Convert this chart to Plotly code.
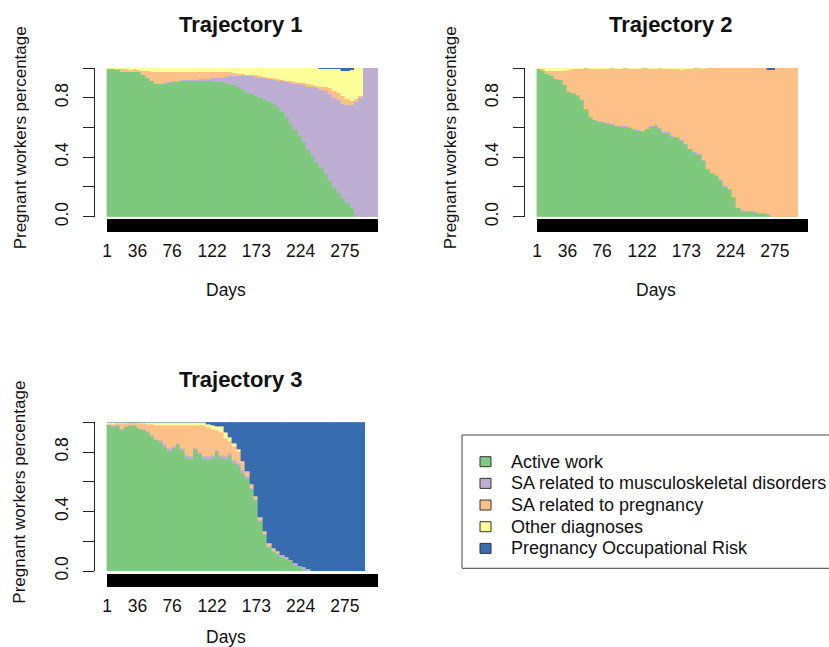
import plotly.graph_objects as go

W, H = 829, 647

STATES = ["Active work", "SA related to musculoskeletal disorders",
          "SA related to pregnancy", "Other diagnoses",
          "Pregnancy Occupational Risk"]
COLORS = ["#7FC97F", "#BEAED4", "#FDC086", "#FFFF99", "#386CB0"]

DAY_LABELS = [1, 36, 76, 122, 173, 224, 275]
MAX_DAY = 313
BIN = 5  # days per column group
LENGTHS = [313, 301, 298]
TITLES = ["Trajectory 1", "Trajectory 2", "Trajectory 3"]

# ---- Trajectory 1 (share of each state, 5-day groups) ----
act1 = [0.99, 0.99, 0.985, 0.975, 0.975, 0.97, 0.975, 0.97, 0.955, 0.935,
        0.91, 0.89, 0.89, 0.895, 0.9, 0.905, 0.905, 0.91, 0.91, 0.91,
        0.91, 0.915, 0.915, 0.91, 0.91, 0.905, 0.905, 0.9, 0.895, 0.885,
        0.87, 0.86, 0.835, 0.825, 0.815, 0.80, 0.785, 0.77, 0.755,
        0.735, 0.705, 0.67, 0.625, 0.58, 0.54, 0.50, 0.45, 0.41, 0.37,
        0.33, 0.29, 0.24, 0.195, 0.16, 0.125, 0.095, 0.06, 0.01, 0,
        0, 0, 0, 0]
msk1 = [0, 0, 0, 0, 0, 0, 0, 0, 0, 0,
        0, 0, 0.003, 0.005, 0.005, 0.005, 0.007, 0.007, 0.008, 0.008,
        0.01, 0.01, 0.012, 0.015, 0.02, 0.025, 0.03, 0.04, 0.05, 0.06,
        0.078, 0.09, 0.111, 0.119, 0.125, 0.135, 0.145, 0.155, 0.165,
        0.18, 0.205, 0.235, 0.275, 0.315, 0.35, 0.385, 0.425, 0.46, 0.495,
        0.525, 0.555, 0.585, 0.605, 0.625, 0.635, 0.655, 0.69, 0.76, 0.8,
        1, 1, 1, 1]
preg1 = [0, 0.005, 0.008, 0.015, 0.015, 0.015, 0.015, 0.015, 0.025, 0.045,
         0.065, 0.085, 0.08, 0.075, 0.07, 0.065, 0.06, 0.058, 0.055, 0.055,
         0.05, 0.048, 0.045, 0.045, 0.04, 0.04, 0.035, 0.03, 0.025, 0.02,
         0.015, 0.012, 0.01, 0.01, 0.01, 0.01, 0.01, 0.01, 0.01,
         0.01, 0.01, 0.01, 0.01, 0.01, 0.01, 0.015, 0.015, 0.015, 0.015,
         0.02, 0.03, 0.04, 0.045, 0.05, 0.05, 0.04, 0.03, 0.02, 0.01,
         0, 0, 0, 0]
oth1 = [0.01, 0.005, 0.007, 0.01, 0.01, 0.015, 0.01, 0.015, 0.02, 0.02,
        0.025, 0.025, 0.027, 0.025, 0.025, 0.025, 0.028, 0.025, 0.027, 0.027,
        0.03, 0.027, 0.028, 0.03, 0.03, 0.03, 0.03, 0.03, 0.03, 0.035,
        0.037, 0.038, 0.044, 0.046, 0.05, 0.055, 0.06, 0.065, 0.07,
        0.075, 0.08, 0.085, 0.09, 0.095, 0.1, 0.1, 0.11, 0.115, 0.12,
        0.115, 0.115, 0.125, 0.145, 0.155, 0.172, 0.192, 0.205, 0.21, 0.19,
        0, 0, 0, 0]
por1 = [0, 0, 0, 0, 0, 0, 0, 0, 0, 0,
        0, 0, 0, 0, 0, 0, 0, 0, 0, 0,
        0, 0, 0, 0, 0, 0, 0, 0, 0, 0,
        0, 0, 0, 0, 0, 0, 0, 0, 0,
        0, 0, 0, 0, 0, 0, 0, 0, 0, 0,
        0.01, 0.01, 0.01, 0.01, 0.01, 0.018, 0.018, 0.015, 0, 0,
        0, 0, 0, 0]

# ---- Trajectory 2 ----
act2 = [0.99, 0.98, 0.962, 0.946, 0.928, 0.917, 0.884, 0.839, 0.828, 0.81,
        0.783, 0.716, 0.664, 0.647, 0.638, 0.633, 0.626, 0.62, 0.608, 0.604,
        0.602, 0.595, 0.586, 0.577, 0.57, 0.588, 0.604, 0.61, 0.593, 0.566,
        0.559, 0.526, 0.532, 0.508, 0.481, 0.452, 0.43, 0.414, 0.374,
        0.313, 0.291, 0.275, 0.239, 0.201, 0.179, 0.128, 0.056, 0.034, 0.029,
        0.029, 0.022, 0.016, 0.016, 0.004, 0, 0, 0, 0, 0,
        0, 0]
msk2 = [0, 0, 0, 0, 0, 0, 0, 0, 0.005, 0.008,
        0.005, 0.005, 0.008, 0.005, 0.005, 0.005, 0.005, 0.005, 0.005, 0.005,
        0.005, 0.005, 0.005, 0.005, 0.005, 0.003, 0.003, 0.005, 0.005, 0.005,
        0.01, 0.02, 0.005, 0.005, 0.005, 0.005, 0.005, 0.005, 0.005,
        0.005, 0.005, 0.005, 0.005, 0.005, 0.005, 0.005, 0.005, 0.01, 0.01,
        0.01, 0.01, 0.01, 0.01, 0.012, 0, 0, 0, 0, 0,
        0, 0]
preg2 = [0.005, 0.01, 0.018, 0.034, 0.052, 0.063, 0.096, 0.146, 0.157, 0.177,
         0.207, 0.279, 0.318, 0.34, 0.352, 0.354, 0.364, 0.375, 0.382, 0.386,
         0.393, 0.39, 0.401, 0.413, 0.425, 0.409, 0.388, 0.38, 0.402, 0.424,
         0.421, 0.444, 0.453, 0.475, 0.504, 0.538, 0.565, 0.581, 0.613,
         0.682, 0.704, 0.72, 0.756, 0.794, 0.816, 0.867, 0.939, 0.956, 0.961,
         0.961, 0.968, 0.974, 0.974, 0.969, 0.985, 1, 1, 1, 1,
         1, 1]
oth2 = [0.005, 0.01, 0.02, 0.02, 0.02, 0.02, 0.02, 0.015, 0.01, 0.005,
        0.005, 0, 0.01, 0.008, 0.005, 0.008, 0.005, 0, 0.005, 0.005,
        0, 0.01, 0.008, 0.005, 0, 0, 0.005, 0.005, 0, 0.005,
        0.01, 0.01, 0.01, 0.012, 0.01, 0.005, 0, 0, 0.008,
        0, 0, 0, 0, 0, 0, 0, 0, 0, 0,
        0, 0, 0, 0, 0, 0, 0, 0, 0, 0,
        0, 0]
por2 = [0, 0, 0, 0, 0, 0, 0, 0, 0, 0,
        0, 0, 0, 0, 0, 0, 0, 0, 0, 0,
        0, 0, 0, 0, 0, 0, 0, 0, 0, 0,
        0, 0, 0, 0, 0, 0, 0, 0, 0,
        0, 0, 0, 0, 0, 0, 0, 0, 0, 0,
        0, 0, 0, 0, 0.015, 0.015, 0, 0, 0, 0,
        0, 0]

# ---- Trajectory 3 ----
act3 = [0.984, 0.969, 0.978, 0.946, 0.973, 0.978, 0.978, 0.962, 0.946, 0.935,
        0.906, 0.879, 0.866, 0.834, 0.805, 0.828, 0.85, 0.81, 0.76, 0.749,
        0.817, 0.783, 0.754, 0.749, 0.76, 0.805, 0.76, 0.754, 0.776,
        0.727, 0.705, 0.66, 0.625, 0.55, 0.475, 0.335, 0.245, 0.16, 0.13,
        0.115, 0.095, 0.08, 0.065, 0.04, 0.025, 0.007, 0, 0, 0,
        0, 0, 0, 0, 0, 0, 0, 0, 0, 0,
        0]
msk3 = [0, 0.01, 0, 0.01, 0, 0, 0, 0, 0.005, 0.005,
        0.008, 0.01, 0.012, 0.015, 0.02, 0.01, 0.01, 0.015, 0.02, 0.02,
        0.01, 0.015, 0.015, 0.02, 0.02, 0.01, 0.02, 0.02, 0.015,
        0.02, 0.02, 0.015, 0.01, 0.005, 0.005, 0.005, 0.005, 0.005, 0.005,
        0.005, 0.005, 0.008, 0.01, 0.01, 0.01, 0.015, 0.01, 0, 0,
        0, 0, 0, 0, 0, 0, 0, 0, 0, 0,
        0]
preg3 = [0, 0.01, 0.015, 0.035, 0.022, 0.02, 0.02, 0.03, 0.04, 0.045,
         0.07, 0.09, 0.1, 0.13, 0.155, 0.14, 0.12, 0.155, 0.2, 0.21,
         0.155, 0.185, 0.21, 0.195, 0.175, 0.13, 0.155, 0.12, 0.08,
         0.09, 0.08, 0.055, 0.035, 0.025, 0.02, 0.02, 0.02, 0.02, 0.015,
         0.01, 0.005, 0.002, 0, 0, 0, 0, 0, 0, 0,
         0, 0, 0, 0, 0, 0, 0, 0, 0, 0,
         0]
oth3 = [0.016, 0.011, 0.007, 0.009, 0.005, 0.002, 0.002, 0.008, 0.009, 0.015,
        0.016, 0.021, 0.022, 0.021, 0.02, 0.022, 0.02, 0.02, 0.02, 0.021,
        0.018, 0.017, 0.021, 0.02, 0.025, 0.03, 0.035, 0.036, 0.029,
        0.023, 0.015, 0.01, 0, 0, 0, 0, 0, 0, 0,
        0, 0, 0, 0, 0, 0, 0, 0, 0, 0,
        0, 0, 0, 0, 0, 0, 0, 0, 0, 0,
        0]
por3 = [0, 0, 0, 0, 0, 0, 0, 0, 0, 0,
        0, 0, 0, 0, 0, 0, 0, 0, 0, 0,
        0, 0, 0, 0.016, 0.02, 0.025, 0.03, 0.07, 0.1,
        0.14, 0.18, 0.26, 0.33, 0.42, 0.5, 0.64, 0.73, 0.815, 0.85,
        0.87, 0.895, 0.91, 0.925, 0.95, 0.965, 0.978, 0.99, 1, 1,
        1, 1, 1, 1, 1, 1, 1, 1, 1, 1,
        1]

PANELS = [
    [act1, msk1, preg1, oth1, por1],
    [act2, msk2, preg2, oth2, por2],
    [act3, msk3, preg3, oth3, por3],
]

FONT = "Liberation Sans, Arial, Helvetica, sans-serif"
TXT = "#111111"
FS = 17.5
FS_LEG = 18

# panel geometry in pixels: (axis-line x, right edge x, top y, bottom y, "Days" y)
GEOM = [(95, 378.25, 68, 216.7, 289.7), (525, 808.25, 68, 216.7, 289.7),
        (95, 378.25, 422.3, 571, 637)]
GAP_TO_DAY1 = 11.6   # px between the y axis line and the first column
PX_PER_DAY = 0.868


def px(v):
    return v / W


def py(v):
    return 1 - v / H


fig = go.Figure()

for p, series in enumerate(PANELS):
    L = LENGTHS[p]
    nb = len(series[0])
    starts = [1 + BIN * k for k in range(nb)]
    widths = [min(BIN, L + 1 - s) for s in starts]
    centers = [s - 0.5 + w / 2 for s, w in zip(starts, widths)]
    sfx = "" if p == 0 else str(p + 1)
    for s_i, vals in enumerate(series):
        fig.add_trace(go.Bar(
            x=centers, y=vals, width=widths,
            marker=dict(color=COLORS[s_i], line=dict(color=COLORS[s_i], width=0.4)),
            name=STATES[s_i], showlegend=False, hoverinfo="skip",
            xaxis="x" + sfx, yaxis="y" + sfx,
        ))

all_days = list(range(1, MAX_DAY + 1))
day_text = [str(d) if d in DAY_LABELS else "" for d in all_days]
yvals = [0, 0.2, 0.4, 0.6, 0.8, 1.0]
ytext = ["0.0", "", "0.4", "", "0.8", ""]

layout = dict(
    width=W, height=H, margin=dict(l=0, r=0, t=0, b=0, autoexpand=False),
    paper_bgcolor="white", plot_bgcolor="white", barmode="stack", bargap=0,
    font=dict(family=FONT, size=FS, color=TXT),
    showlegend=False,
)

annotations = []
shapes = []
for p, (xl, xr, yt, yb, ydays) in enumerate(GEOM):
    sfx = "" if p == 0 else str(p + 1)
    left_day = 0.5 - GAP_TO_DAY1 / PX_PER_DAY
    layout["xaxis" + sfx] = dict(
        domain=[px(xl), px(xr)], range=[left_day, MAX_DAY + 0.5],
        anchor="free", position=py(yb + 1.6),
        showline=False, showgrid=False, zeroline=False,
        ticks="outside", ticklen=13, tickwidth=1, tickcolor="#000000",
        tickmode="array", tickvals=all_days, ticktext=day_text, tickangle=0,
        tickfont=dict(family=FONT, size=FS, color=TXT), ticklabelstandoff=4,
        fixedrange=True,
    )
    layout["yaxis" + sfx] = dict(
        domain=[py(yb), py(yt)], range=[0, 1], anchor="x" + sfx,
        showline=True, linecolor="#222222", linewidth=1,
        showgrid=False, zeroline=False,
        ticks="outside", ticklen=11, tickwidth=1, tickcolor="#222222",
        tickmode="array", tickvals=yvals, ticktext=ytext, tickangle=-90,
        tickfont=dict(family=FONT, size=FS, color=TXT), ticklabelstandoff=8,
        fixedrange=True,
    )
    annotations.append(dict(text="<b>" + TITLES[p] + "</b>", x=px(xl + 146), y=py(yt - 43),
                            xref="paper", yref="paper", showarrow=False,
                            xanchor="center", yanchor="middle",
                            font=dict(family=FONT, size=22, color=TXT)))
    annotations.append(dict(text="Days", x=px(xl + 131), y=py(ydays),
                            xref="paper", yref="paper", showarrow=False,
                            xanchor="center", yanchor="middle",
                            font=dict(family=FONT, size=FS, color=TXT)))
    annotations.append(dict(text="Pregnant workers percentage", x=px(xl - 75),
                            y=py((yt + yb) / 2 - 4), xref="paper", yref="paper",
                            showarrow=False, textangle=-90,
                            xanchor="center", yanchor="middle",
                            font=dict(family=FONT, size=17, color=TXT)))

# legend box (drawn by hand to match the original spacing)
LEG_LEFT, LEG_TOP, LEG_BOTTOM = 462, 435, 568.3
ROW0, ROW_STEP = 461.7, 21.67
shapes.append(dict(type="rect", xref="paper", yref="paper",
                   x0=px(LEG_LEFT), x1=px(W + 20), y0=py(LEG_BOTTOM), y1=py(LEG_TOP),
                   line=dict(color="#444444", width=1), fillcolor="white", layer="below"))
for i, name in enumerate(STATES):
    yc = ROW0 + ROW_STEP * i
    shapes.append(dict(type="rect", xref="paper", yref="paper",
                       x0=px(480), x1=px(491), y0=py(yc + 5), y1=py(yc - 5),
                       line=dict(color="#333333", width=1), fillcolor=COLORS[i]))
    annotations.append(dict(text=name, x=px(508.5), y=py(yc), xref="paper", yref="paper",
                            showarrow=False, xanchor="left", yanchor="middle",
                            font=dict(family=FONT, size=FS_LEG, color=TXT)))

layout["annotations"] = annotations
layout["shapes"] = shapes
fig.update_layout(**layout)

fig.write_html("out.html", config={"displayModeBar": False},
               post_script="document.body.style.margin='0';document.body.style.overflow='hidden';")
